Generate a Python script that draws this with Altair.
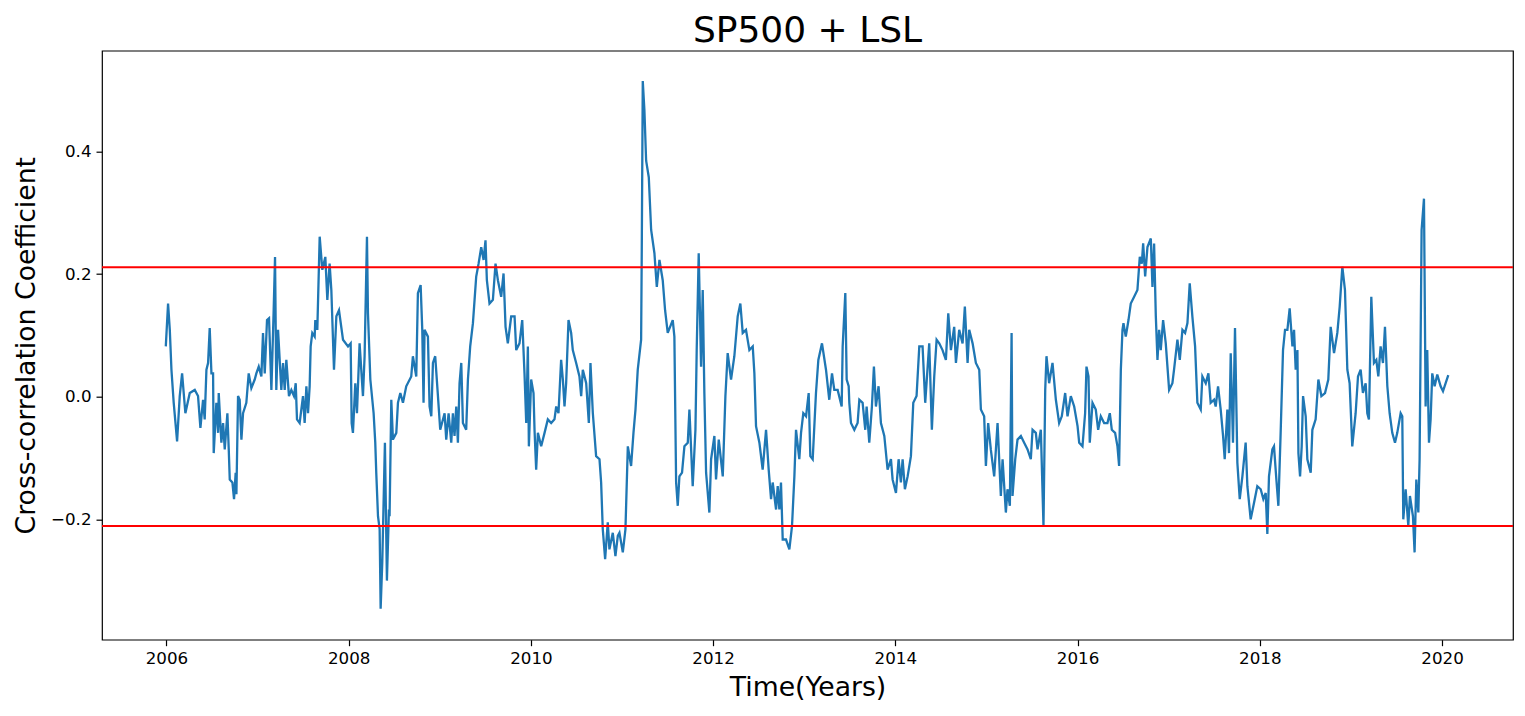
import altair as alt
import pandas as pd

TITLE = "SP500 + LSL"
X_TITLE = "Time(Years)"
Y_TITLE = "Cross-correlation Coefficient"
X_TICKS = [2006, 2008, 2010, 2012, 2014, 2016, 2018, 2020]
Y_TICKS = [-0.2, 0.0, 0.2, 0.4]
THRESHOLDS = [0.211, -0.211]

YEARS = [
    2005.993, 2006.018, 2006.037, 2006.055, 2006.080, 2006.117, 2006.146, 2006.172, 2006.208, 2006.256,
    2006.311, 2006.347, 2006.373, 2006.402, 2006.420, 2006.439, 2006.457, 2006.475, 2006.494, 2006.512,
    2006.519, 2006.548, 2006.567, 2006.574, 2006.603, 2006.622, 2006.640, 2006.669, 2006.684, 2006.695,
    2006.724, 2006.742, 2006.760, 2006.768, 2006.786, 2006.804, 2006.823, 2006.841, 2006.877, 2006.903,
    2006.932, 2006.969, 2006.987, 2007.013, 2007.042, 2007.060, 2007.079, 2007.104, 2007.126, 2007.152,
    2007.177, 2007.192, 2007.206, 2007.225, 2007.261, 2007.280, 2007.298, 2007.316, 2007.345, 2007.371,
    2007.400, 2007.419, 2007.433, 2007.462, 2007.499, 2007.517, 2007.536, 2007.554, 2007.572, 2007.583,
    2007.601, 2007.627, 2007.634, 2007.656, 2007.682, 2007.711, 2007.744, 2007.766, 2007.791, 2007.810,
    2007.839, 2007.865, 2007.894, 2007.938, 2007.993, 2008.022, 2008.033, 2008.047, 2008.073, 2008.091,
    2008.120, 2008.157, 2008.175, 2008.201, 2008.212, 2008.238, 2008.274, 2008.292, 2008.303, 2008.322,
    2008.340, 2008.351, 2008.369, 2008.398, 2008.420, 2008.442, 2008.449, 2008.468, 2008.486, 2008.523,
    2008.541, 2008.567, 2008.596, 2008.632, 2008.687, 2008.705, 2008.742, 2008.760, 2008.790, 2008.808,
    2008.822, 2008.833, 2008.870, 2008.888, 2008.907, 2008.925, 2008.950, 2008.980, 2009.005, 2009.053,
    2009.071, 2009.097, 2009.126, 2009.144, 2009.162, 2009.181, 2009.199, 2009.217, 2009.236, 2009.254,
    2009.290, 2009.309, 2009.334, 2009.364, 2009.382, 2009.400, 2009.426, 2009.455, 2009.481, 2009.502,
    2009.517, 2009.546, 2009.583, 2009.612, 2009.638, 2009.674, 2009.700, 2009.722, 2009.747, 2009.784,
    2009.821, 2009.839, 2009.875, 2009.905, 2009.930, 2009.949, 2009.967, 2009.978, 2010.003, 2010.029,
    2010.040, 2010.058, 2010.077, 2010.113, 2010.150, 2010.186, 2010.223, 2010.259, 2010.278, 2010.303,
    2010.332, 2010.351, 2010.369, 2010.387, 2010.413, 2010.442, 2010.460, 2010.497, 2010.533, 2010.552,
    2010.570, 2010.607, 2010.636, 2010.654, 2010.680, 2010.716, 2010.753, 2010.771, 2010.789, 2010.815,
    2010.844, 2010.862, 2010.899, 2010.928, 2010.954, 2010.972, 2011.009, 2011.038, 2011.064, 2011.100,
    2011.126, 2011.148, 2011.173, 2011.210, 2011.217, 2011.228, 2011.246, 2011.265, 2011.294, 2011.320,
    2011.356, 2011.382, 2011.411, 2011.447, 2011.473, 2011.502, 2011.557, 2011.575, 2011.594, 2011.612,
    2011.630, 2011.659, 2011.685, 2011.722, 2011.740, 2011.776, 2011.806, 2011.820, 2011.842, 2011.868,
    2011.886, 2011.904, 2011.923, 2011.959, 2011.978, 2012.014, 2012.032, 2012.062, 2012.106, 2012.135,
    2012.160, 2012.197, 2012.233, 2012.270, 2012.299, 2012.325, 2012.361, 2012.398, 2012.435, 2012.453,
    2012.471, 2012.508, 2012.544, 2012.581, 2012.610, 2012.636, 2012.654, 2012.691, 2012.709, 2012.727,
    2012.745, 2012.764, 2012.800, 2012.837, 2012.866, 2012.892, 2012.910, 2012.946, 2012.965, 2012.990,
    2013.020, 2013.049, 2013.067, 2013.093, 2013.129, 2013.155, 2013.195, 2013.239, 2013.275, 2013.305,
    2013.330, 2013.367, 2013.411, 2013.422, 2013.451, 2013.466, 2013.488, 2013.495, 2013.513, 2013.550,
    2013.586, 2013.605, 2013.641, 2013.670, 2013.685, 2013.714, 2013.743, 2013.765, 2013.787, 2013.816,
    2013.842, 2013.879, 2013.915, 2013.952, 2013.970, 2014.007, 2014.036, 2014.061, 2014.080, 2014.105,
    2014.135, 2014.171, 2014.197, 2014.233, 2014.263, 2014.299, 2014.328, 2014.372, 2014.401, 2014.427,
    2014.453, 2014.482, 2014.518, 2014.555, 2014.581, 2014.610, 2014.646, 2014.665, 2014.701, 2014.738,
    2014.763, 2014.793, 2014.811, 2014.848, 2014.884, 2014.921, 2014.939, 2014.975, 2014.994, 2015.019,
    2015.048, 2015.085, 2015.122, 2015.158, 2015.177, 2015.213, 2015.231, 2015.257, 2015.276, 2015.286,
    2015.316, 2015.341, 2015.378, 2015.414, 2015.451, 2015.487, 2015.506, 2015.542, 2015.561, 2015.597,
    2015.626, 2015.645, 2015.659, 2015.688, 2015.725, 2015.762, 2015.798, 2015.827, 2015.864, 2015.890,
    2015.926, 2015.963, 2016.000, 2016.018, 2016.054, 2016.083, 2016.098, 2016.120, 2016.134, 2016.164,
    2016.200, 2016.226, 2016.255, 2016.292, 2016.328, 2016.354, 2016.376, 2016.412, 2016.438, 2016.456,
    2016.475, 2016.493, 2016.504, 2016.529, 2016.559, 2016.584, 2016.621, 2016.657, 2016.683, 2016.705,
    2016.720, 2016.742, 2016.767, 2016.804, 2016.822, 2016.840, 2016.859, 2016.877, 2016.895, 2016.913,
    2016.939, 2016.968, 2017.005, 2017.041, 2017.059, 2017.096, 2017.122, 2017.151, 2017.180, 2017.206,
    2017.231, 2017.260, 2017.290, 2017.315, 2017.352, 2017.370, 2017.407, 2017.436, 2017.461, 2017.498,
    2017.516, 2017.542, 2017.571, 2017.597, 2017.615, 2017.644, 2017.662, 2017.681, 2017.706, 2017.728,
    2017.754, 2017.780, 2017.809, 2017.845, 2017.864, 2017.900, 2017.937, 2017.973, 2018.010, 2018.039,
    2018.065, 2018.083, 2018.101, 2018.138, 2018.156, 2018.182, 2018.204, 2018.229, 2018.255, 2018.277,
    2018.303, 2018.328, 2018.358, 2018.376, 2018.394, 2018.413, 2018.424, 2018.442, 2018.460, 2018.475,
    2018.504, 2018.522, 2018.559, 2018.577, 2018.613, 2018.643, 2018.676, 2018.716, 2018.752, 2018.778,
    2018.815, 2018.851, 2018.877, 2018.906, 2018.935, 2018.961, 2018.986, 2019.015, 2019.052, 2019.078,
    2019.107, 2019.132, 2019.162, 2019.180, 2019.198, 2019.224, 2019.253, 2019.279, 2019.301, 2019.326,
    2019.352, 2019.374, 2019.400, 2019.425, 2019.454, 2019.484, 2019.509, 2019.546, 2019.564, 2019.575,
    2019.601, 2019.630, 2019.648, 2019.681, 2019.699, 2019.718, 2019.740, 2019.754, 2019.776, 2019.802,
    2019.820, 2019.838, 2019.857, 2019.875, 2019.893, 2019.919, 2019.948, 2019.985, 2020.011, 2020.040,
    2020.069,
]

VALUES = [
    0.082, 0.152, 0.109, 0.044, -0.010, -0.073, 0.001, 0.038, -0.027, 0.006,
    0.011, 0.001, -0.051, -0.005, -0.037, 0.044, 0.055, 0.112, 0.038, 0.038,
    -0.092, -0.010, -0.059, 0.006, -0.075, -0.043, -0.086, -0.027, -0.086, -0.135,
    -0.140, -0.167, -0.124, -0.159, 0.001, -0.005, -0.070, -0.027, -0.010, 0.038,
    0.014, 0.028, 0.038, 0.049, 0.033, 0.104, 0.038, 0.125, 0.128, 0.011,
    0.141, 0.228, 0.011, 0.109, 0.011, 0.055, 0.011, 0.060, 0.001, 0.011,
    0.001, 0.022, -0.037, -0.043, 0.001, -0.043, 0.017, -0.027, 0.017, 0.082,
    0.104, 0.098, 0.125, 0.109, 0.261, 0.207, 0.228, 0.158, 0.217, 0.174,
    0.044, 0.131, 0.141, 0.093, 0.082, 0.087, -0.043, -0.059, 0.022, -0.027,
    0.087, 0.001, 0.066, 0.261, 0.136, 0.028, -0.027, -0.075, -0.124, -0.195,
    -0.216, -0.346, -0.270, -0.075, -0.300, -0.184, -0.195, -0.005, -0.070, -0.059,
    -0.010, 0.006, -0.010, 0.017, 0.033, 0.066, 0.033, 0.169, 0.182, 0.109,
    -0.010, 0.109, 0.098, -0.016, -0.032, 0.055, 0.066, 0.001, -0.054, -0.027,
    -0.070, -0.027, -0.075, -0.027, -0.064, -0.016, -0.075, 0.022, 0.055, -0.043,
    -0.054, 0.028, 0.082, 0.120, 0.158, 0.196, 0.217, 0.244, 0.223, 0.255,
    0.190, 0.152, 0.158, 0.217, 0.190, 0.163, 0.201, 0.114, 0.087, 0.131,
    0.131, 0.076, 0.087, 0.125, 0.038, -0.043, 0.082, -0.081, 0.028, 0.006,
    -0.054, -0.119, -0.059, -0.081, -0.059, -0.037, -0.043, -0.037, -0.016, -0.027,
    0.060, 0.028, -0.016, 0.022, 0.125, 0.104, 0.076, 0.055, 0.033, 0.001,
    0.044, 0.022, -0.043, 0.055, -0.027, -0.097, -0.102, -0.140, -0.216, -0.265,
    -0.205, -0.249, -0.222, -0.260, -0.227, -0.222, -0.254, -0.216, -0.081, -0.113,
    -0.059, -0.021, 0.044, 0.093, 0.239, 0.515, 0.467, 0.385, 0.358, 0.272,
    0.234, 0.179, 0.223, 0.190, 0.141, 0.104, 0.125, 0.098, -0.140, -0.178,
    -0.130, -0.124, -0.081, -0.075, -0.021, -0.146, -0.054, 0.076, 0.234, 0.049,
    0.174, 0.006, -0.124, -0.189, -0.102, -0.064, -0.135, -0.070, -0.130, 0.001,
    0.071, 0.028, 0.066, 0.131, 0.152, 0.104, 0.109, 0.076, 0.082, 0.038,
    -0.048, -0.075, -0.119, -0.054, -0.119, -0.167, -0.140, -0.184, -0.146, -0.184,
    -0.140, -0.233, -0.233, -0.249, -0.211, -0.130, -0.054, -0.102, -0.059, -0.027,
    -0.032, 0.006, -0.097, -0.102, 0.006, 0.060, 0.087, 0.044, -0.005, 0.038,
    0.011, 0.011, -0.016, 0.082, 0.169, 0.028, 0.017, -0.010, -0.043, -0.054,
    -0.043, -0.005, -0.010, -0.054, -0.016, -0.075, -0.016, 0.049, -0.016, 0.017,
    -0.043, -0.064, -0.119, -0.102, -0.135, -0.157, -0.102, -0.140, -0.102, -0.151,
    -0.130, -0.097, -0.010, 0.001, 0.082, 0.082, -0.010, 0.087, -0.054, 0.033,
    0.093, 0.087, 0.076, 0.060, 0.136, 0.076, 0.114, 0.055, 0.109, 0.087,
    0.147, 0.055, 0.109, 0.087, 0.055, 0.044, -0.021, -0.032, -0.113, -0.043,
    -0.086, -0.130, -0.043, -0.162, -0.102, -0.189, -0.151, -0.178, 0.104, -0.162,
    -0.102, -0.070, -0.064, -0.075, -0.086, -0.102, -0.054, -0.059, -0.086, -0.054,
    -0.211, 0.011, 0.066, 0.022, 0.055, -0.005, -0.043, -0.032, 0.006, -0.032,
    0.001, -0.016, -0.048, -0.075, -0.081, -0.027, 0.049, 0.033, -0.075, -0.010,
    -0.021, -0.054, -0.032, -0.043, -0.043, -0.027, -0.054, -0.059, -0.081, -0.113,
    0.044, 0.109, 0.120, 0.098, 0.125, 0.152, 0.163, 0.174, 0.228, 0.217,
    0.250, 0.196, 0.244, 0.258, 0.179, 0.250, 0.131, 0.060, 0.109, 0.076,
    0.125, 0.087, 0.011, 0.022, 0.044, 0.093, 0.060, 0.109, 0.104, 0.120,
    0.185, 0.131, 0.082, -0.010, -0.021, 0.033, 0.022, 0.038, -0.010, -0.005,
    -0.016, 0.017, -0.021, -0.064, -0.102, -0.021, -0.092, 0.071, -0.075, 0.112,
    -0.108, -0.167, -0.130, -0.075, -0.146, -0.200, -0.173, -0.146, -0.151, -0.167,
    -0.157, -0.224, -0.130, -0.086, -0.081, -0.135, -0.178, -0.059, 0.076, 0.109,
    0.109, 0.144, 0.082, 0.109, 0.044, 0.076, -0.092, -0.130, -0.081, 0.001,
    -0.032, -0.102, -0.124, -0.054, -0.037, 0.028, 0.001, 0.006, 0.028, 0.114,
    0.071, 0.104, 0.147, 0.212, 0.174, 0.044, 0.022, -0.081, -0.027, 0.033,
    0.044, 0.006, 0.022, -0.027, -0.037, 0.163, 0.055, 0.060, 0.033, 0.082,
    0.055, 0.114, 0.017, -0.027, -0.059, -0.075, -0.059, -0.027, -0.032, -0.200,
    -0.151, -0.211, -0.162, -0.195, -0.254, -0.135, -0.189, -0.102, 0.272, 0.323,
    -0.016, 0.076, -0.075, -0.037, 0.038, 0.017, 0.036, 0.017, 0.009, 0.022,
    0.035,
]

FONT = "DejaVu Sans"
line_df = pd.DataFrame({"year": YEARS, "value": VALUES})
thr_df = pd.DataFrame({"level": THRESHOLDS})

x_scale = alt.Scale(domain=[2005.293, 2020.779], nice=False, zero=False)
y_scale = alt.Scale(domain=[-0.3964, 0.5644], nice=False, zero=False)

line = alt.Chart(line_df).mark_line(color="#1f77b4", strokeWidth=2.3, clip=True).encode(
    x=alt.X("year:Q", scale=x_scale,
            axis=alt.Axis(values=X_TICKS, format="d", title=X_TITLE)),
    y=alt.Y("value:Q", scale=y_scale,
            axis=alt.Axis(values=Y_TICKS, format=".1f", title=Y_TITLE)),
)

rules = alt.Chart(thr_df).mark_rule(color="#ff0000", strokeWidth=2).encode(
    y=alt.Y("level:Q", scale=y_scale)
)

chart = alt.layer(line, rules).properties(
    width=1411,
    height=589,
    title=alt.TitleParams(TITLE, font=FONT, fontSize=36, fontWeight="normal",
                          color="black", anchor="middle", offset=1),
    autosize=alt.AutoSizeParams(type="none"),
    padding={"left": 94, "top": 42.7, "right": 4, "bottom": 74},
).configure_view(
    stroke="black", strokeWidth=1.2
).configure_axis(
    domain=False, grid=False,
    ticks=True, tickColor="black", tickSize=6, tickWidth=1.2,
    labelFont=FONT, labelFontSize=16.7, labelColor="black", labelPadding=5,
    titleFont=FONT, titleFontSize=26.7, titleFontWeight="normal", titleColor="black",
).configure_axisX(
    titlePadding=7, labelFlush=False
).configure_axisY(
    titlePadding=10, labelFlush=False
)

chart.save("out.html", embed_options={"renderer": "svg", "actions": False})
